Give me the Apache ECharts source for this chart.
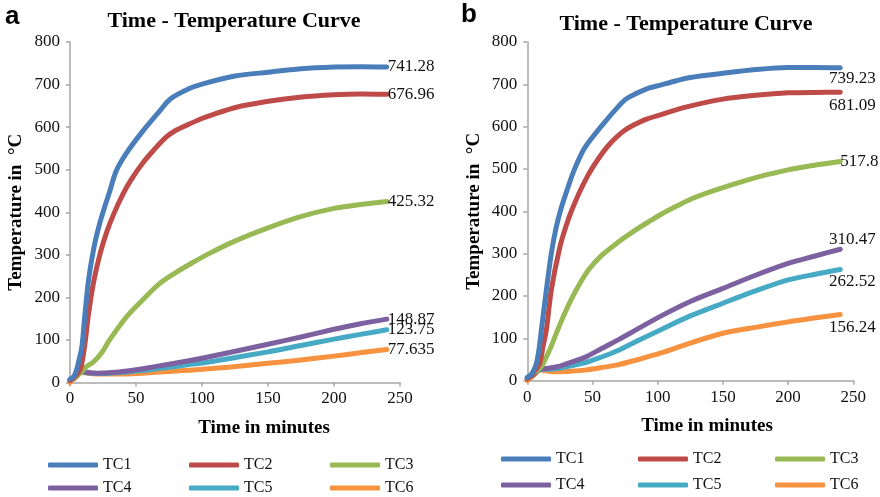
<!DOCTYPE html>
<html>
<head>
<meta charset="utf-8">
<script src="https://cdn.jsdelivr.net/npm/echarts@6/dist/echarts.min.js"></script>
<style>
  html, body { margin: 0; padding: 0; background: #fff; }
  #chart { width: 880px; height: 497px; }
</style>
</head>
<body>
<div id="chart"></div>
<script>
// names, ticks
const seriesNames = ["TC1", "TC2", "TC3", "TC4", "TC5", "TC6"];
const xTicks = [0, 50, 100, 150, 200, 250];
const yTicks = [0, 100, 200, 300, 400, 500, 600, 700, 800];

// panel a: [minutes, °C]
const aTC1 = [[0, 8], [3, 15], [5, 30], [7, 55], [9, 84], [11, 150], [14, 240], [18, 315], [22, 368], [26, 410], [30, 448], [35, 497], [43, 540], [55, 590], [68, 638], [76, 666], [90, 690], [100, 701], [125, 720], [150, 729], [175, 737], [200, 741], [220, 742], [240, 741.28]];
const aTC2 = [[0, 5], [3, 12], [5, 18], [8, 32], [11, 84], [14, 160], [18, 238], [23, 305], [28, 355], [33, 395], [40, 442], [46, 475], [55, 515], [64, 548], [73, 577], [80, 592], [88, 604], [98, 618], [106, 627], [124, 645], [149, 660], [174, 670], [200, 676], [220, 678], [240, 676.96]];
const aTC3 = [[0, 5], [5, 15], [9, 26], [12, 36], [18, 49], [24, 70], [30, 100], [43, 155], [55, 194], [68, 233], [81, 260], [93, 282], [106, 304], [124, 331], [149, 362], [174, 389], [200, 409], [220, 418], [240, 425.32]];
const aTC4 = [[0, 5], [5, 15], [9, 25], [15, 23], [20, 22], [30, 23], [40, 26], [50, 30], [60, 35], [75, 43], [90, 51], [100, 57], [120, 70], [150, 90], [175, 107], [200, 125], [220, 138], [240, 148.87]];
const aTC5 = [[0, 5], [5, 15], [9, 25], [15, 22], [20, 21], [30, 22], [40, 24], [50, 27], [60, 30], [75, 36], [90, 42], [100, 46], [120, 56], [150, 72], [175, 87], [200, 102], [220, 113], [240, 123.75]];
const aTC6 = [[0, 0], [5, 14], [9, 24], [15, 21], [20, 20], [30, 20], [40, 20], [50, 21], [60, 23], [75, 26], [90, 29], [100, 31], [120, 36], [150, 45], [175, 53], [200, 62], [220, 70], [240, 77.635]];

// panel b
const bTC1 = [[0, 8], [3, 15], [5, 25], [7, 41], [9, 75], [11, 125], [14.6, 214], [18.4, 300], [22, 360], [26, 408], [31, 455], [36, 498], [44, 550], [57, 602], [72, 655], [77, 668], [92, 690], [102, 698], [110, 705], [125, 716], [150, 726], [175, 735], [200, 740], [220, 740], [240, 739.23]];
const bTC2 = [[0, 5], [3, 12], [5, 20], [9.5, 41], [12, 80], [14.6, 120], [18.4, 214], [25, 316], [30, 368], [34, 402], [40, 445], [46, 482], [52, 513], [62, 555], [75, 592], [90, 616], [102, 628], [120, 645], [150, 665], [175, 674], [200, 680], [220, 681], [240, 681.09]];
const bTC3 = [[0, 5], [5, 18], [10.7, 33], [14, 52], [18.4, 82], [22, 110], [26, 140], [30, 168], [34, 194], [40, 228], [47, 262], [57, 296], [70, 328], [82, 354], [95, 379], [102, 392], [115, 413], [127, 431], [150, 456], [178, 482], [200, 498], [220, 509], [240, 517.8]];
const bTC4 = [[0, 5], [5, 15], [10, 28], [15, 29], [23, 33], [30, 40], [44, 55], [57, 76], [70, 97], [85, 123], [102, 152], [125, 187], [150, 218], [175, 249], [200, 277], [220, 294], [240, 310.47]];
const bTC5 = [[0, 5], [5, 15], [10, 27], [15, 27], [23, 29], [30, 33], [44, 42], [57, 56], [70, 72], [85, 95], [102, 120], [125, 153], [150, 183], [175, 212], [200, 238], [220, 251], [240, 262.52]];
const bTC6 = [[0, 0], [5, 13], [10, 25], [15, 23], [23, 21], [30, 22], [44, 25], [57, 31], [70, 38], [85, 50], [102, 65], [125, 89], [150, 112], [175, 126], [200, 139], [220, 148], [240, 156.24]];

const colors = ["#4A7EBB", "#BE4B48", "#98B954", "#7D60A0", "#46AAC5", "#F69240"];
const serif = "Liberation Serif";

// end value labels (where they sit next to the last point)
const aLabels = [
  { position: "right", distance: 1 },
  { position: "right", distance: 1 },
  { position: "right", distance: 1 },
  { position: "right", distance: 1 },
  { position: "right", distance: 1 },
  { position: "right", distance: 1 }
];
const bLabels = [
  { position: "bottom", distance: 2, offset: [12, 0] },
  { position: "bottom", distance: 5, offset: [12, 0] },
  { position: "right", distance: 0 },
  { position: "top", distance: 1, offset: [12, 0] },
  { position: "bottom", distance: 3, offset: [12, 0] },
  { position: "bottom", distance: 4, offset: [12, 0] }
];

function makeSeries(list, labels, idx) {
  return list.map((arr, i) => ({
    name: seriesNames[i],
    type: "line",
    xAxisIndex: idx,
    yAxisIndex: idx,
    color: colors[i],
    smooth: 0.3,
    showSymbol: true,
    symbol: "circle",
    symbolSize: 0,
    lineStyle: { width: 5, cap: "round", join: "round" },
    z: 10 - i,
    data: arr.map((p, j) => j === arr.length - 1 ? {
      value: p,
      label: Object.assign({
        show: true,
        fontFamily: serif,
        fontSize: 17,
        color: "#111",
        formatter: (prm) => String(prm.value[1])
      }, labels[i])
    } : p)
  }));
}

function makeAxes(idx) {
  const common = {
    gridIndex: idx,
    type: "value",
    splitLine: { show: false },
    axisLine: { show: true, lineStyle: { color: "#a6a6a6", width: 1.5 } },
    axisTick: { show: true, length: 4, lineStyle: { color: "#a6a6a6", width: 1.5 } },
    nameTextStyle: { fontFamily: serif, fontWeight: "bold", fontSize: 19, color: "#000" },
    axisLabel: { fontFamily: serif, fontSize: 17, color: "#111" }
  };
  const x = Object.assign({}, common, {
    min: xTicks[0], max: xTicks[xTicks.length - 1], interval: xTicks[1] - xTicks[0]
  });
  x.axisLabel = Object.assign({}, common.axisLabel, { margin: 8 });
  const y = Object.assign({}, common, {
    min: yTicks[0], max: yTicks[yTicks.length - 1], interval: yTicks[1] - yTicks[0],
    name: "Temperature in  °C", nameLocation: "middle", nameRotate: 90, nameGap: 44
  });
  y.axisLabel = Object.assign({}, common.axisLabel, { margin: 10 });
  return { x, y };
}

function makeLegends(lefts, tops) {
  const out = [];
  seriesNames.forEach((n, i) => {
    out.push({
      data: [n],
      left: lefts[i % 3],
      top: tops[Math.floor(i / 3)] - 8,
      padding: 0,
      icon: "roundRect",
      itemWidth: 50,
      itemHeight: 5,
      selectedMode: false,
      textStyle: { fontFamily: serif, fontSize: 16, color: "#111" }
    });
  });
  return out;
}

const axA = makeAxes(0);
const axB = makeAxes(1);

const titleFont = "bold 22px 'Liberation Serif'";
const nameFont = "bold 19px 'Liberation Serif'";

const chart = echarts.init(document.getElementById("chart"), null, { renderer: "canvas" });
chart.setOption({
  animation: false,
  backgroundColor: "#fff",
  grid: [
    { left: 70, top: 42, width: 330, height: 340.5 },
    { left: 527.3, top: 42, width: 326, height: 338.7 }
  ],
  xAxis: [axA.x, axB.x],
  yAxis: [axA.y, axB.y],
  legend: makeLegends([48, 189, 330], [465, 488]).concat(makeLegends([501, 638, 775], [459, 485])),
  graphic: [
    { type: "text", x: 5, y: 4, style: { text: "a", font: "bold 26px 'Liberation Sans'", fill: "#000" } },
    { type: "text", x: 461, y: 2, style: { text: "b", font: "bold 26px 'Liberation Sans'", fill: "#000" } },
    { type: "text", x: 234, y: 21, style: { text: "Time - Temperature Curve", font: titleFont, fill: "#000", align: "center", verticalAlign: "middle" } },
    { type: "text", x: 686, y: 24, style: { text: "Time - Temperature Curve", font: titleFont, fill: "#000", align: "center", verticalAlign: "middle" } },
    { type: "text", x: 264, y: 428, style: { text: "Time in minutes", font: nameFont, fill: "#000", align: "center", verticalAlign: "middle" } },
    { type: "text", x: 707, y: 426, style: { text: "Time in minutes", font: nameFont, fill: "#000", align: "center", verticalAlign: "middle" } }
  ],
  series: makeSeries([aTC1, aTC2, aTC3, aTC4, aTC5, aTC6], aLabels, 0)
    .concat(makeSeries([bTC1, bTC2, bTC3, bTC4, bTC5, bTC6], bLabels, 1))
});
window.addEventListener("resize", () => chart.resize());
</script>
</body>
</html>
